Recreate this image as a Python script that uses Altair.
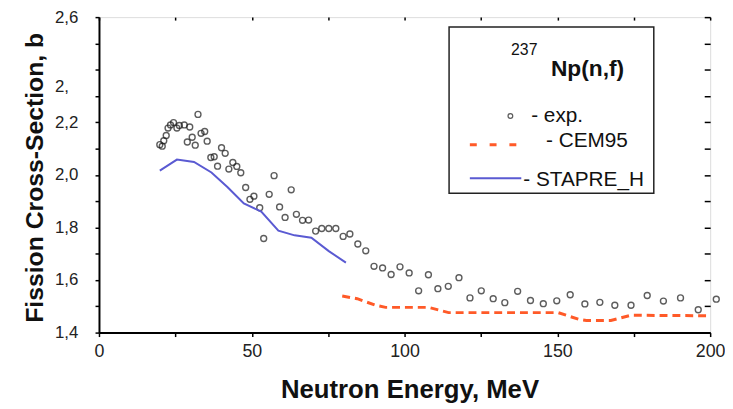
import altair as alt
import pandas as pd

# ---- data ----
exp_energy = [19.9, 20.7, 21.2, 22.0, 22.6, 23.4, 24.4, 25.5, 26.3, 27.9, 28.9, 29.7, 30.5, 31.5,
              32.4, 33.4, 34.6, 35.4, 36.6, 37.7, 38.8, 40.1, 41.3, 42.5, 43.8, 45.1, 46.4, 48.0,
              49.4, 50.7, 52.6, 53.9, 55.7, 57.3, 59.1, 60.9, 62.9, 64.6, 66.6, 68.6, 70.9, 72.9,
              75.2, 77.5, 79.9, 82.1, 84.7, 87.3, 90.0, 92.8, 95.6, 98.5, 101.5, 104.6, 107.8,
              110.9, 114.3, 117.8, 121.4, 125.1, 129.0, 132.8, 137.0, 141.2, 145.4, 149.8, 154.2,
              159.0, 163.9, 168.8, 174.1, 179.4, 184.7, 190.3, 196.1, 202.0]
exp_sigma = [2.115, 2.109, 2.130, 2.150, 2.178, 2.190, 2.199, 2.178, 2.188, 2.190, 2.125, 2.182,
             2.143, 2.113, 2.230, 2.158, 2.165, 2.128, 2.066, 2.069, 2.033, 2.103, 2.082, 2.022,
             2.047, 2.032, 2.008, 1.952, 1.907, 1.919, 1.875, 1.758, 1.926, 1.997, 1.878, 1.838,
             1.943, 1.850, 1.827, 1.828, 1.786, 1.796, 1.796, 1.796, 1.766, 1.775, 1.737, 1.711,
             1.652, 1.646, 1.621, 1.650, 1.627, 1.559, 1.620, 1.567, 1.576, 1.609, 1.532, 1.559,
             1.529, 1.514, 1.557, 1.522, 1.510, 1.521, 1.544, 1.509, 1.515, 1.504, 1.504, 1.541,
             1.520, 1.532, 1.487, 1.527]

stapre_energy = [19.9, 25.5, 31.1, 36.8, 42.1, 47.4, 53.1, 58.7, 64.0, 69.5, 75.2, 80.8]
stapre_sigma = [2.016, 2.058, 2.049, 2.009, 1.953, 1.891, 1.860, 1.788, 1.770, 1.761, 1.710, 1.666]

cem_energy = [79.6, 84.5, 90.5, 93.8, 107.8, 114.4, 150.2, 156.9, 159.5, 167.5, 174.1, 200.0]
cem_sigma = [1.539, 1.529, 1.504, 1.496, 1.496, 1.476, 1.476, 1.451, 1.446, 1.446, 1.466, 1.464]

x_ticks = [0, 25, 50, 75, 100, 125, 150, 175, 200]
y_ticks = [1.4, 1.5, 1.6, 1.7, 1.8, 1.9, 2.0, 2.1, 2.2, 2.3, 2.4, 2.5, 2.6]

exp_df = pd.DataFrame({"E": exp_energy, "s": exp_sigma})
stapre_df = pd.DataFrame({"E": stapre_energy, "s": stapre_sigma})
cem_df = pd.DataFrame({"E": cem_energy, "s": cem_sigma})
one = pd.DataFrame({"k": [0]})

FONT = "Liberation Sans"
xs = alt.Scale(domain=[0, 200], nice=False, zero=False)
ys = alt.Scale(domain=[1.4, 2.6], nice=False, zero=False)

y_label_expr = ("abs(datum.value-2.4)<0.001 ? '2,' : "
                "(round(datum.value*10)%2==0 ? replace(format(datum.value,'.1f'),'.',',') : '')")

points = alt.Chart(exp_df).mark_point(filled=False, size=36, stroke="#1a1a1a", strokeWidth=1.4).encode(
    x=alt.X("E:Q", scale=xs, axis=alt.Axis(
        orient="bottom", values=x_ticks, title="Neutron Energy, MeV",
        labelExpr="datum.value % 50 == 0 ? datum.label : ''", labelFlush=False,
        tickSize=4, tickWidth=1.5, tickColor="black", domainWidth=2, domainColor="black",
        labelFont=FONT, labelFontSize=18, labelColor="#222", labelPadding=6,
        titleFont=FONT, titleFontSize=26, titleFontWeight="bold", titleColor="#111",
        titleX=314, titleY=66, titleAlign="center", titleBaseline="alphabetic", grid=False)),
    y=alt.Y("s:Q", scale=ys, axis=alt.Axis(
        orient="left", values=y_ticks, title="Fission Cross-Section, b",
        labelExpr=y_label_expr, labelAlign="left", labelPadding=41, labelFlush=False,
        labelOffset={"condition": {"test": "abs(datum.value-2.4)<0.001", "value": 17}, "value": 0},
        tickSize=4, tickWidth=1.5, tickColor="black", domainWidth=2, domainColor="black",
        labelFont=FONT, labelFontSize=17, labelColor="#222",
        titleFont=FONT, titleFontSize=25, titleFontWeight="bold", titleColor="#111",
        titleAngle=-90, titleX=-57, titleY=162, titleAlign="center", titleBaseline="alphabetic",
        grid=False)),
)

stapre = alt.Chart(stapre_df).mark_line(color="#5a5ad2", strokeWidth=2).encode(
    x=alt.X("E:Q", scale=xs, axis=None), y=alt.Y("s:Q", scale=ys, axis=None))

cem = alt.Chart(cem_df).mark_line(color="#ff5a28", strokeWidth=3, strokeDash=[8, 5]).encode(
    x=alt.X("E:Q", scale=xs, axis=None), y=alt.Y("s:Q", scale=ys, axis=None))

mirror = alt.Chart(exp_df).mark_point(opacity=0).encode(
    x=alt.X("E:Q", scale=xs, axis=alt.Axis(orient="top", values=x_ticks, labels=False, title=None,
                                           domain=False, tickSize=3, offset=-3, tickWidth=1.5,
                                           tickColor="black", grid=False)),
    y=alt.Y("s:Q", scale=ys, axis=alt.Axis(orient="right", values=y_ticks, labels=False, title=None,
                                           domain=False, tickSize=6, offset=-6, tickWidth=1.5,
                                           tickColor="black", grid=False)),
)

# ---- hand-drawn legend box ----
box = alt.Chart(one).mark_rect(fill="white", stroke="#222", strokeWidth=1.5).encode(
    x=alt.value(354), x2=alt.value(561), y=alt.value(10), y2=alt.value(178))
sup = alt.Chart(one).mark_text(font=FONT, fontSize=16, color="#111", align="center", baseline="middle").encode(
    x=alt.value(430), y=alt.value(33), text=alt.value("237"))
title = alt.Chart(one).mark_text(font=FONT, fontSize=23, fontWeight="bold", color="#111",
                                 align="left", baseline="middle").encode(
    x=alt.value(457), y=alt.value(53), text=alt.value("Np(n,f)"))
leg_pt = alt.Chart(one).mark_point(filled=False, size=22, stroke="#1a1a1a", strokeWidth=1.3).encode(
    x=alt.value(416), y=alt.value(100))
leg_pt_t = alt.Chart(one).mark_text(font=FONT, fontSize=21, color="#111", align="left", baseline="middle").encode(
    x=alt.value(437), y=alt.value(100), text=alt.value("- exp."))
leg_cem = alt.Chart(one).mark_rule(color="#ff5a28", strokeWidth=3, strokeDash=[7, 13]).encode(
    x=alt.value(375), x2=alt.value(426), y=alt.value(129))
leg_cem_t = alt.Chart(one).mark_text(font=FONT, fontSize=21, color="#111", align="left", baseline="middle").encode(
    x=alt.value(452), y=alt.value(125), text=alt.value("- CEM95"))
leg_st = alt.Chart(one).mark_rule(color="#5a5ad2", strokeWidth=2).encode(
    x=alt.value(375), x2=alt.value(427), y=alt.value(163))
leg_st_t = alt.Chart(one).mark_text(font=FONT, fontSize=21, color="#111", align="left", baseline="middle").encode(
    x=alt.value(429), y=alt.value(165), text=alt.value("-  STAPRE_H"))

chart = alt.layer(
    points, mirror, stapre, cem,
    box, sup, title, leg_pt, leg_pt_t, leg_cem, leg_cem_t, leg_st, leg_st_t
).resolve_axis(x="independent", y="independent").properties(
    width=618, height=319,
    autosize=alt.AutoSizeParams(type="none"),
    padding={"left": 92, "top": 7, "right": 15, "bottom": 72},
).configure_view(stroke="black", strokeWidth=2).configure(background="white")

chart.save("out.html", embed_options={"renderer": "svg", "actions": False})
